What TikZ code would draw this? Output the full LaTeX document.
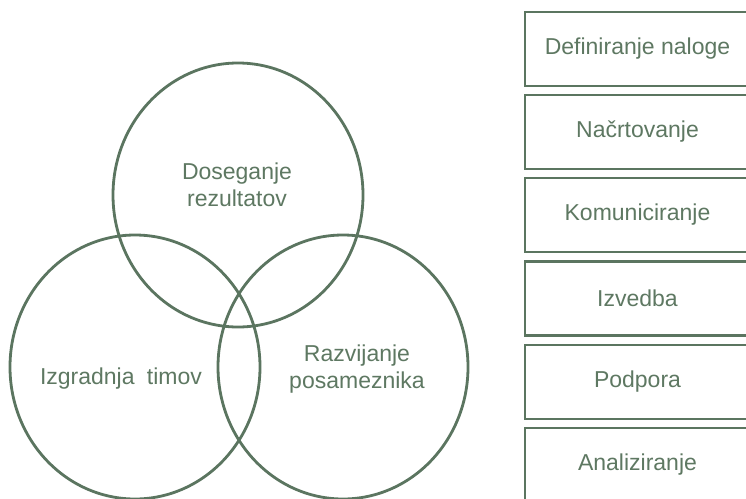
\documentclass[tikz,border=0pt]{standalone}
\usepackage{fontspec}
\setmainfont{Liberation Sans}
\usetikzlibrary{shapes.geometric}
\definecolor{lc}{HTML}{5B7560}
\definecolor{tc}{HTML}{5E7862}
\tikzset{
  ring/.style={draw=lc, line width=2.8pt, ellipse, minimum width=250pt, minimum height=264pt, inner sep=0pt},
  lbl/.style={text=tc, align=center, font=\fontsize{23}{27}\selectfont, inner sep=0pt},
  stepbox/.style={draw=lc, line width=2.8pt, rectangle, minimum width=225pt, minimum height=74pt, text=tc, font=\fontsize{23}{27}\selectfont, inner sep=0pt}
}
\begin{document}
\begin{tikzpicture}[x=1pt,y=-1pt]
\useasboundingbox (0,0) rectangle (746,498);
\clip (0,0) rectangle (746,498);
\fill[white] (0,0) rectangle (746,498);
\node[ring] (top) at (238,195) {};
\node[ring] (left) at (135,367) {};
\node[ring] (right) at (343,367) {};
\node[lbl] (t1) at (237,185) {Doseganje\\rezultatov};
\node[lbl] (t2) at (121,379) {Izgradnja\hspace{6pt} timov};
\node[lbl] (t3) at (357,369) {Razvijanje\\posameznika};
\node[stepbox] (b1) at (637.5,49) {Definiranje naloge};
\node[stepbox] (b2) at (637.5,132) {Načrtovanje};
\node[stepbox] (b3) at (637.5,215) {Komuniciranje};
\node[stepbox] (b4) at (637.5,298.5) {Izvedba};
\node[stepbox] (b5) at (637.5,382) {Podpora};
\node[stepbox] (b6) at (637.5,465) {Analiziranje};
\end{tikzpicture}
\end{document}
